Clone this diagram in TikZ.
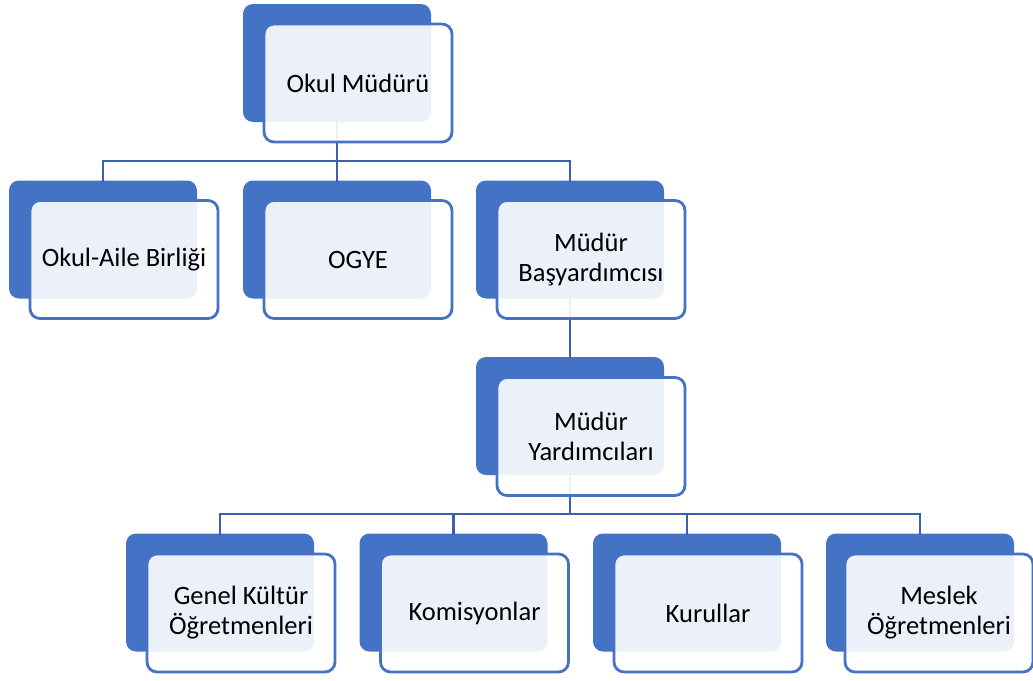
\documentclass[tikz,border=0pt]{standalone}
\usepackage{fontspec}
\setmainfont{Carlito}
\usepackage{tikz}
\usetikzlibrary{positioning}

\definecolor{accent}{HTML}{4472C4}
\definecolor{linkblue}{HTML}{3A62AC}

\begin{document}
\begin{tikzpicture}[x=1pt,y=-1pt,
    backbox/.style={rounded corners=10pt,fill=accent,minimum width=188pt,minimum height=118pt,inner sep=0pt},
    frontbox/.style={rounded corners=10pt,fill=white,fill opacity=0.9,text opacity=1,draw=accent,line width=2.8pt,
        minimum width=188pt,minimum height=118pt,inner sep=2pt,align=center,font=\fontsize{26.5}{30}\selectfont},
    link/.style={draw=linkblue,line width=2.4pt,line cap=rect}]
            \useasboundingbox (0,0) rectangle (1033,680);

            % back boxes
            \node[backbox] (mudur-b) at (337,63) {};
            \node[backbox] (aile-b) at (103,239.5) {};
            \node[backbox] (ogye-b) at (337,239.5) {};
            \node[backbox] (basyrd-b) at (570,239.5) {};
            \node[backbox] (yrd-b) at (570,416) {};
            \node[backbox] (genel-b) at (220,592.5) {};
            \node[backbox] (komis-b) at (453.5,592.5) {};
            \node[backbox] (kurul-b) at (687,592.5) {};
            \node[backbox] (meslek-b) at (920,592.5) {};

            % connectors
            \coordinate (bus1) at (337,161);
            \coordinate (bus2) at (570,514);
            \draw[link] (mudur-b.south) -- (ogye-b.north);
            \draw[link] (aile-b.north) |- (bus1) -| (basyrd-b.north);
            \draw[link] (basyrd-b.south) -- (yrd-b.north);
            \draw[link] (yrd-b.south) -- (bus2);
            \draw[link] (genel-b.north) |- (bus2) -| (meslek-b.north);
            \draw[link] (komis-b.north) -- (komis-b.north |- bus2);
            \draw[link] (kurul-b.north) -- (kurul-b.north |- bus2);

            % front boxes
            \node[frontbox] (mudur) at (358,83) {Okul Müdürü};
            \node[frontbox] (aile) at (124,259.5) {Okul-Aile Birliği};
            \node[frontbox] (ogye) at (358,259.5) {OGYE};
            \node[frontbox] (basyrd) at (591,259.5) {Müdür\\Başyardımcısı};
            \node[frontbox] (yrd) at (591,436.5) {Müdür\\Yardımcıları};
            \node[frontbox] (genel) at (241,613) {Genel Kültür\\Öğretmenleri};
            \node[frontbox] (komis) at (474.5,613) {Komisyonlar};
            \node[frontbox] (kurul) at (708,613) {Kurullar};
            \node[frontbox] (meslek) at (939,613) {Meslek\\Öğretmenleri};
        \end{tikzpicture}
\end{document}
